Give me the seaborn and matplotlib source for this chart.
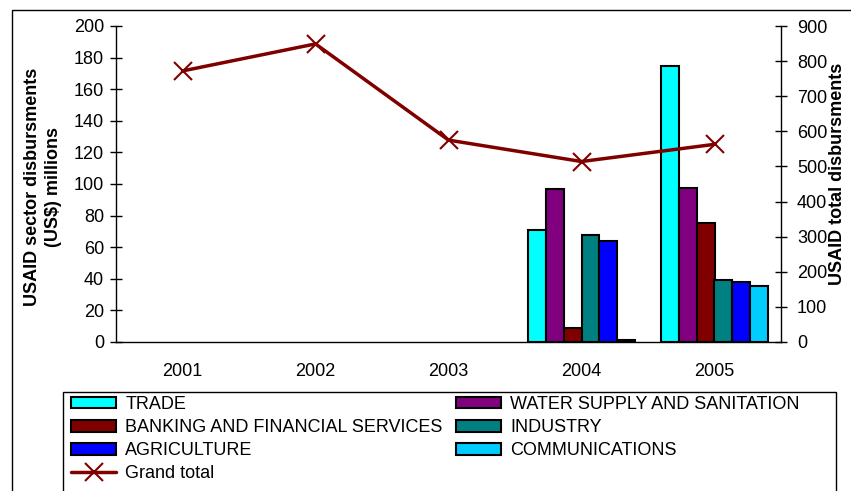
import numpy as np
import pandas as pd
import matplotlib
matplotlib.use("Agg")
import matplotlib.pyplot as plt
from matplotlib.patches import Rectangle
import seaborn as sns

# ---- data -------------------------------------------------------------
years = ["2001", "2002", "2003", "2004", "2005"]
sectors = ["TRADE", "WATER SUPPLY AND SANITATION", "BANKING AND FINANCIAL SERVICES",
           "INDUSTRY", "AGRICULTURE", "COMMUNICATIONS"]
sector_years = ["2004", "2005"]
trade = [71, 175]
water = [97, 97.5]
banking = [9, 75.5]
industry = [68, 39]
agriculture = [64, 38]
communications = [1, 35.5]
grand_total = [772, 849, 575, 514, 563]

sector_colors = ["#00FFFF", "#800080", "#800000", "#008080", "#0000FF", "#00CCFF"]
line_color = "#800000"

# ---- long-form table for seaborn --------------------------------------
series = [trade, water, banking, industry, agriculture, communications]
rows = []
for name, vals in zip(sectors, series):
    for yr, v in zip(sector_years, vals):
        rows.append({"year": yr, "sector": name, "value": v})
df = pd.DataFrame(rows)

sns.set_style("white")
plt.rcParams["font.family"] = ["Liberation Sans", "DejaVu Sans"]
plt.rcParams.update({"text.color": "black", "axes.labelcolor": "black",
                     "xtick.color": "black", "ytick.color": "black"})
FS = 13

W, H = 851, 491
fig = plt.figure(figsize=(W / 100, H / 100), dpi=100)
AX_L, AX_R, AX_T, AX_B = 116, 781, 26, 342
ax = fig.add_axes([AX_L / W, 1 - AX_B / H, (AX_R - AX_L) / W, (AX_B - AX_T) / H])

sns.barplot(data=df, x="year", y="value", hue="sector", order=years,
            hue_order=sectors, palette=sector_colors, saturation=1, width=0.8,
            edgecolor="black", linewidth=1.5, legend=False, ax=ax)

ax.set_ylim(0, 200)
ax.set_yticks(np.arange(0, 201, 20))
ax.set_xlim(-0.5, len(years) - 0.5)
ax.set_xlabel("")
ax.set_ylabel("USAID sector disbursments\n(US$) millions", fontsize=FS,
              fontweight="bold", linespacing=1.35)
ax.yaxis.label.set_va("center")
ax.yaxis.set_label_coords((43 - AX_L) / (AX_R - AX_L), (AX_B - 187) / (AX_B - AX_T))

# category boundaries carry the tick marks, labels sit at the centres
ax.set_xticks(np.arange(len(years)))
ax.set_xticklabels(years)
ax.set_xticks(np.arange(-0.5, len(years)), minor=True)
ax.tick_params(axis="x", which="major", length=0, pad=15, labelsize=FS)
ax.tick_params(axis="x", which="minor", direction="inout", length=9, width=1, color="black")
ax.tick_params(axis="y", direction="inout", length=9, width=1, color="black",
               labelsize=FS, pad=4)

for side in ["left", "bottom"]:
    ax.spines[side].set_color("black")
    ax.spines[side].set_linewidth(1)
ax.spines["top"].set_visible(False)
ax.spines["right"].set_visible(False)

# ---- grand total on secondary axis ------------------------------------
ax2 = ax.twinx()
sns.pointplot(x=years, y=grand_total, order=years, ax=ax2, color=line_color,
              markers="x", markersize=13, markeredgewidth=1.5, linewidth=2.5,
              errorbar=None)
ax2.set_xlim(-0.5, len(years) - 0.5)
ax2.set_ylim(0, 900)
ax2.set_yticks(np.arange(0, 901, 100))
ax2.set_ylabel("USAID total disbursments", fontsize=FS, fontweight="bold")
ax2.yaxis.label.set_va("center")
ax2.yaxis.set_label_coords((838 - AX_L) / (AX_R - AX_L), (AX_B - 174) / (AX_B - AX_T))
ax2.tick_params(axis="y", direction="inout", length=9, width=1, color="black",
                labelsize=FS, pad=7)
for side in ["top", "left", "bottom"]:
    ax2.spines[side].set_visible(False)
ax2.spines["right"].set_color("black")
ax2.spines["right"].set_linewidth(1)

# ---- legend ------------------------------------------------------------
bar_handles = [c.patches[0] for c in ax.containers]
line_handle = ax2.lines[0]
order_idx = [0, 2, 4, None, 1, 3, 5]
handles, labels = [], []
for i in order_idx:
    if i is None:
        handles.append(line_handle)
        labels.append("Grand total")
    else:
        handles.append(bar_handles[i])
        labels.append(sectors[i])

fig.legend(handles, labels, loc="upper left", bbox_to_anchor=(71 / W, 1 - 396 / H),
           ncol=2, frameon=False, fontsize=FS, handlelength=2.5, handleheight=0.6,
           handletextpad=0.5, labelspacing=0.34, columnspacing=0.75,
           borderaxespad=0, borderpad=0)

# legend border and chart-area border (right/bottom edges run off the canvas)
fig.patches.append(Rectangle((63 / W, -0.2), (836 - 63) / W, (H - 392) / H + 0.2,
                             transform=fig.transFigure, fill=False,
                             edgecolor="black", linewidth=1))
fig.patches.append(Rectangle((12 / W, -0.2), 1.2, 1 - 10 / H + 0.2,
                             transform=fig.transFigure, fill=False,
                             edgecolor="black", linewidth=1))

fig.savefig("out.png", dpi=100)
